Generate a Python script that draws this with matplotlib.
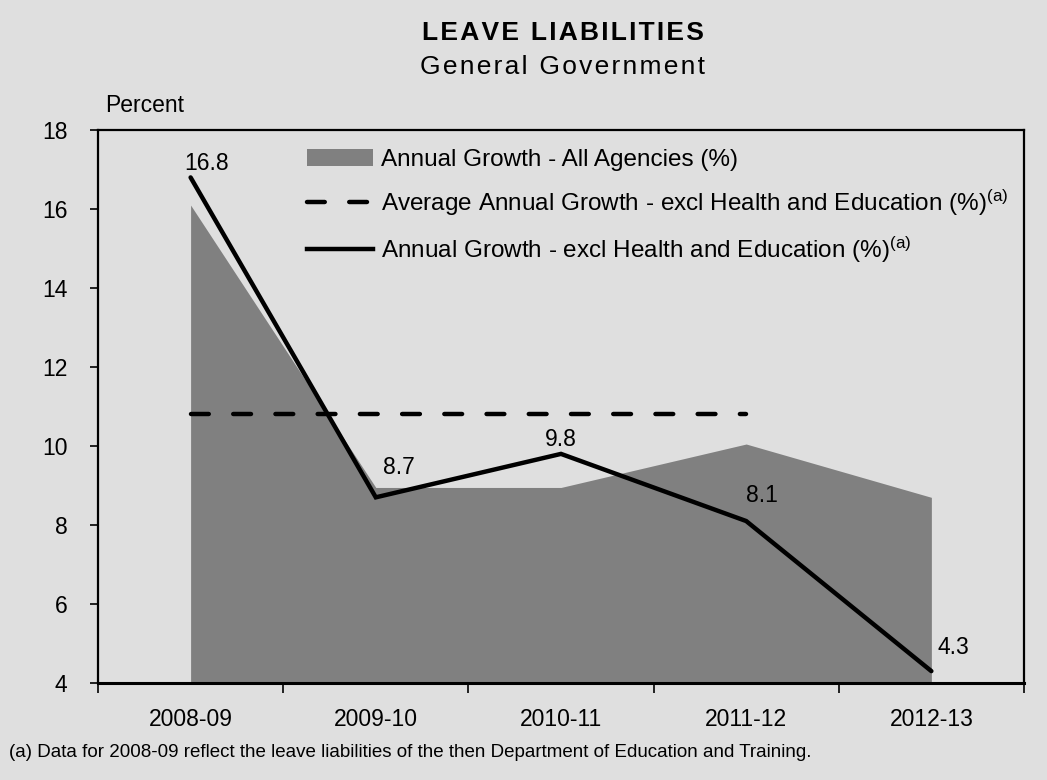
import numpy as np
import matplotlib
matplotlib.use("Agg")
import matplotlib.pyplot as plt
from matplotlib.patches import Patch
from matplotlib.lines import Line2D

plt.rcParams['font.family'] = ['Liberation Sans', 'DejaVu Sans']
plt.rcParams['mathtext.fontset'] = 'custom'
plt.rcParams['mathtext.rm'] = 'Liberation Sans'
plt.rcParams['mathtext.it'] = 'Liberation Sans'

years = ['2008-09', '2009-10', '2010-11', '2011-12', '2012-13']
all_agencies = [16.1, 8.95, 8.95, 10.05, 8.7]
excl_health_edu = [16.8, 8.7, 9.8, 8.1, 4.3]
avg_excl = 10.8
avg_years = 4  # average line runs over the first four years


def spaced(s):
    # widen the tracking with hair spaces between letters
    return '\u200a'.join(s)


bg = '#dfdfdf'
fs = 16.5
fig = plt.figure(figsize=(10.47, 7.8), dpi=100, facecolor=bg)
ax = fig.add_axes([0.0936, 0.1244, 0.8844, 0.7089], facecolor=bg)

x = np.arange(len(years))
dash = (4.0, 5.5)
ax.fill_between(x, 4, all_agencies, color='#808080', lw=0, zorder=1)
ax.plot(x[:avg_years], [avg_excl] * avg_years, color='black', lw=3.2,
        dashes=dash, dash_capstyle='round', zorder=2)
ax.plot(x, excl_health_edu, color='black', lw=3.2, solid_capstyle='round',
        solid_joinstyle='miter', zorder=3)

# value labels on the solid line
offsets = [(11.5, 1.5), (16.5, 13), (0, 2), (11.5, 10), (16, 9)]
for xi, v, off in zip(x, excl_health_edu, offsets):
    ax.annotate(f'{v:.1f}', (xi, v), xytext=off, textcoords='offset points',
                ha='center', va='bottom', fontsize=fs)

ax.set_xlim(-0.5, 4.5)
ax.set_ylim(4, 18)
ax.set_yticks(np.arange(4, 19, 2))
ax.set_xticks(x)
ax.set_xticklabels(years)
ax.set_xticks(np.arange(-0.5, 5, 1), minor=True)
ax.tick_params(axis='x', which='major', length=0, pad=18, labelsize=fs)
ax.tick_params(axis='x', which='minor', length=7, width=1.2, direction='out')
ax.tick_params(axis='y', length=6, width=1.2, direction='out', pad=16, labelsize=fs)
for s in ax.spines.values():
    s.set_linewidth(1.6)
    s.set_color('black')
ax.spines['bottom'].set_linewidth(2.2)

handles = [
    Patch(facecolor='#808080', edgecolor='none'),
    Line2D([], [], color='black', lw=3.2, dashes=dash, dash_capstyle='round'),
    Line2D([], [], color='black', lw=3.2),
]
labels = [
    'Annual Growth - All Agencies (%)',
    'Average Annual Growth - excl Health and Education (%)$^{(a)}$',
    'Annual Growth - excl Health and Education (%)$^{(a)}$',
]
leg = ax.legend(handles, labels, loc='upper left', bbox_to_anchor=(0.2155, 0.983),
                frameon=False, fontsize=17.5, handlelength=2.7, handleheight=0.65,
                handletextpad=0.33, labelspacing=0.68, borderaxespad=0)

fig.text(0.5377, 0.958, spaced('LEAVE LIABILITIES'), ha='center', va='center',
         fontsize=19, fontweight='bold')
fig.text(0.5377, 0.914, spaced('General Government'), ha='center', va='center',
         fontsize=19)
fig.text(0.1003, 0.865, 'Percent', ha='left', va='center', fontsize=fs)
fig.text(0.009, 0.035, '(a) Data for 2008-09 reflect the leave liabilities of the then '
         'Department of Education and Training.', ha='left', va='center', fontsize=13.5)

fig.savefig('out.png', dpi=100, facecolor=bg)
